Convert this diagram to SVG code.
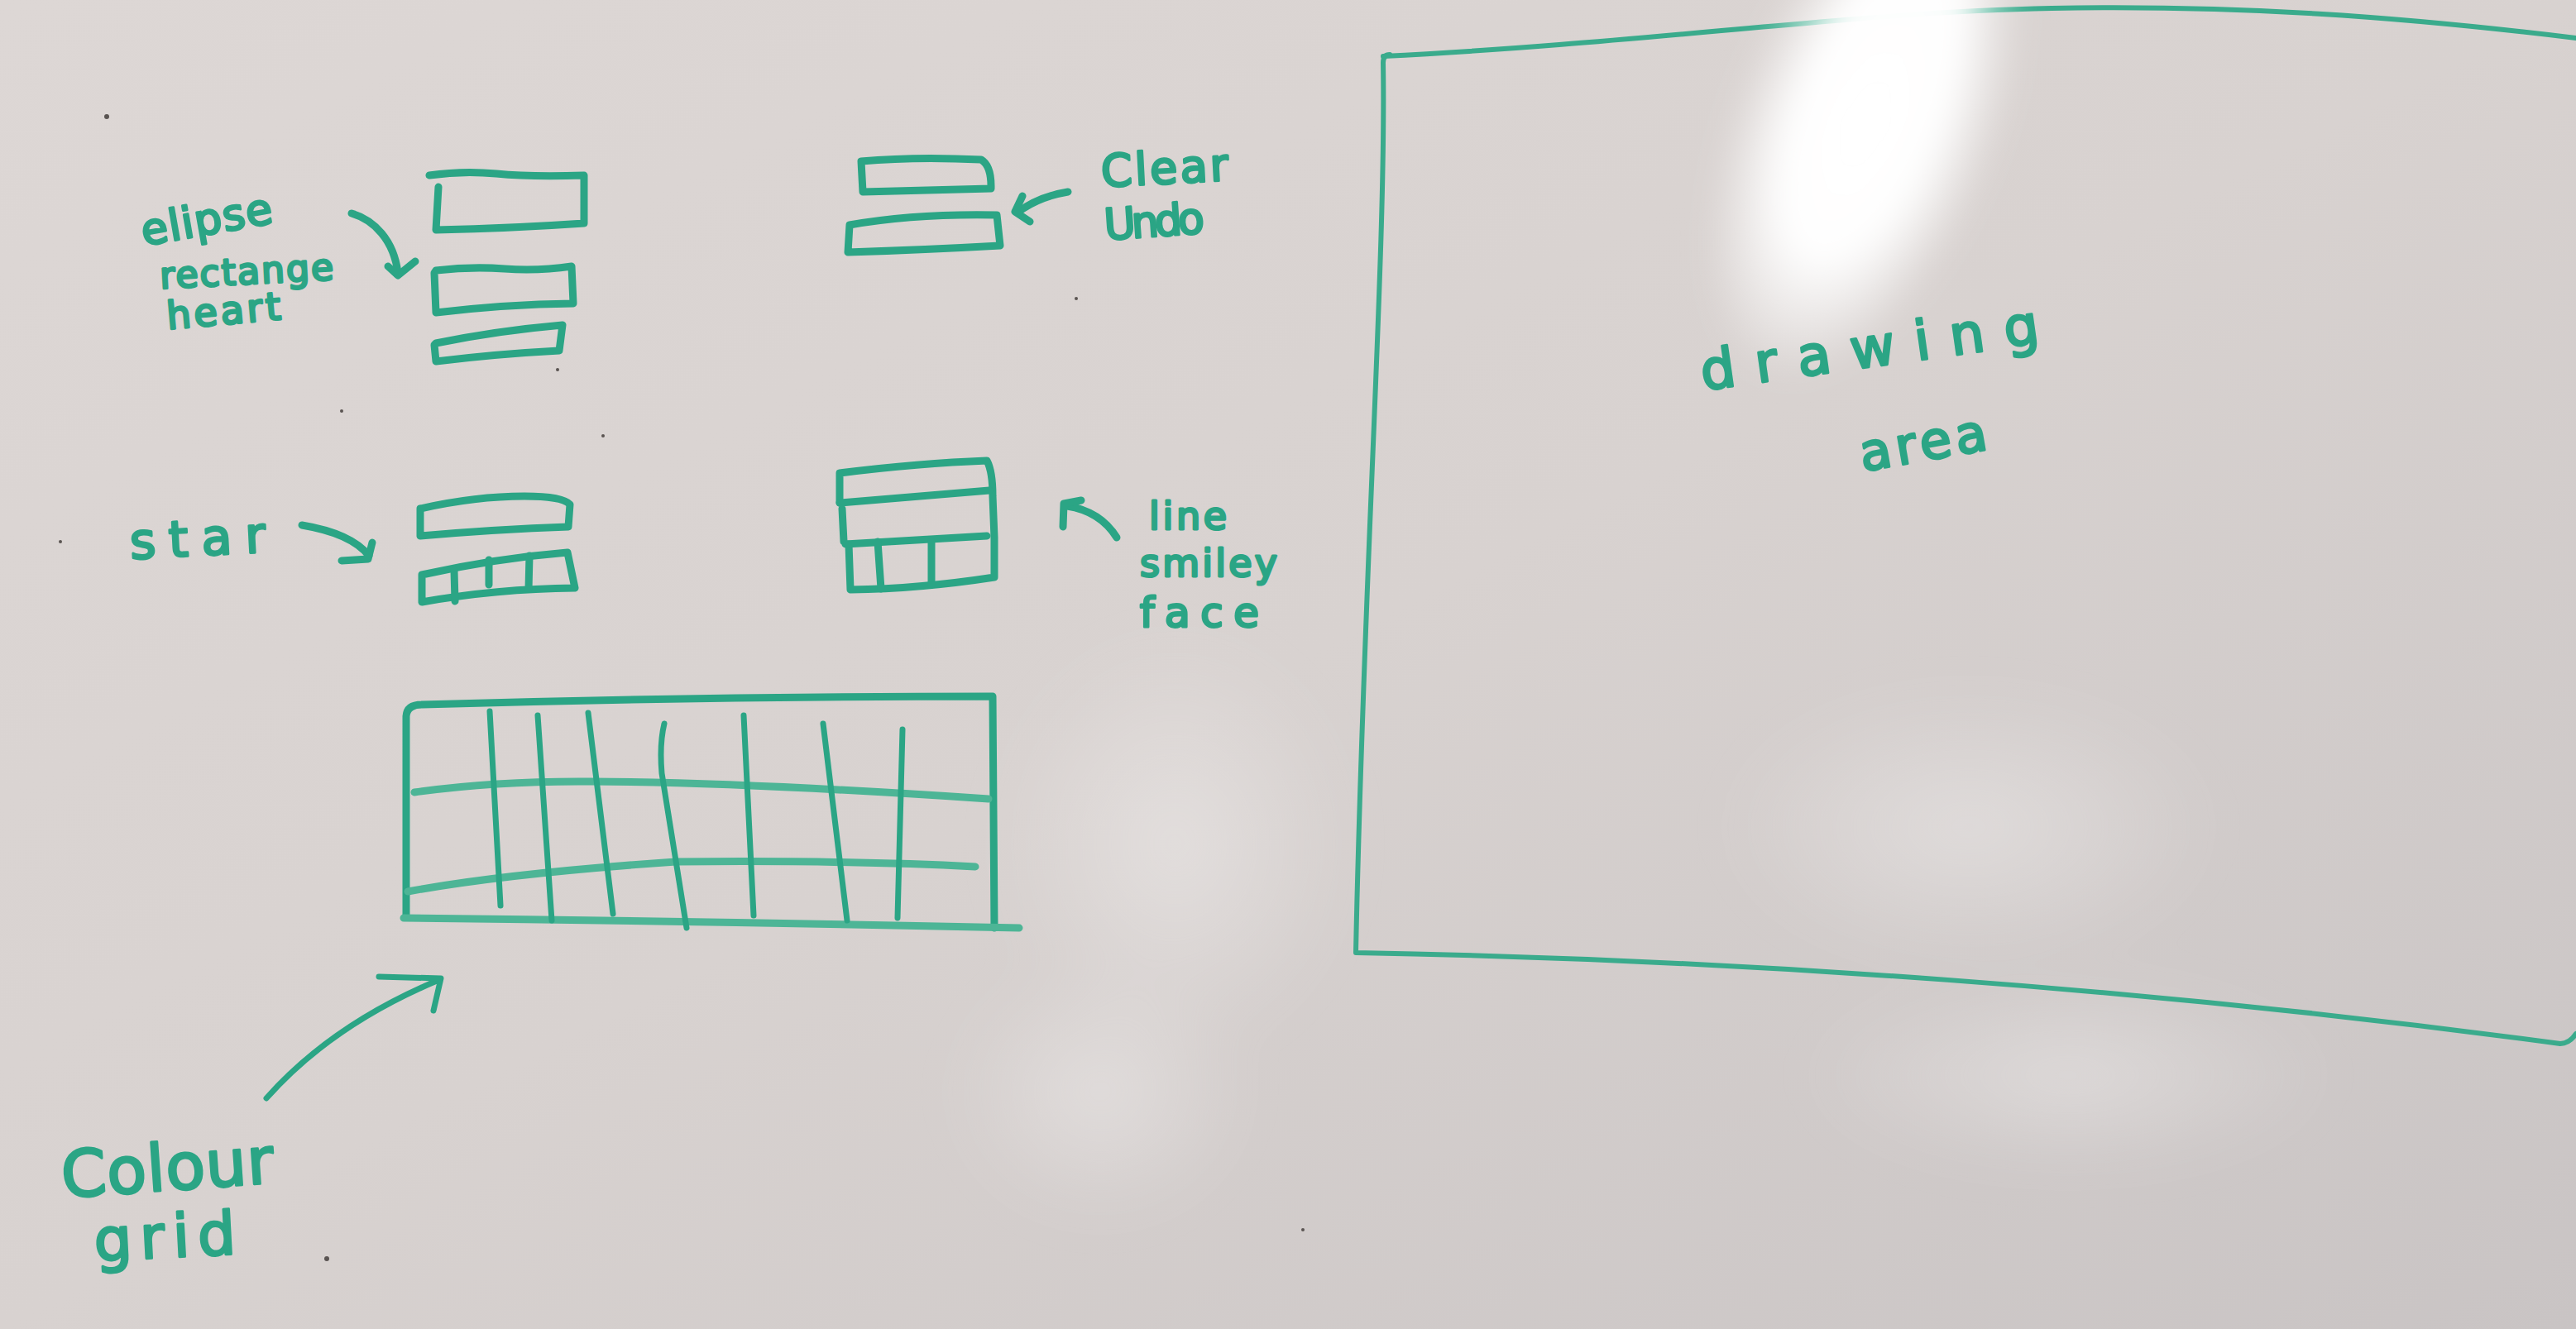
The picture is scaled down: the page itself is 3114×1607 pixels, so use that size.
<svg xmlns="http://www.w3.org/2000/svg" width="3114" height="1607" viewBox="0 0 3114 1607">
  <defs>
    <linearGradient id="board" x1="0" y1="0" x2="1" y2="1">
      <stop offset="0" stop-color="#ddd7d5"/>
      <stop offset="0.5" stop-color="#d8d2d0"/>
      <stop offset="1" stop-color="#c9c4c4"/>
    </linearGradient>
    <radialGradient id="shine">
      <stop offset="0" stop-color="#ffffff" stop-opacity="1"/>
      <stop offset="0.55" stop-color="#ffffff" stop-opacity="0.9"/>
      <stop offset="1" stop-color="#ffffff" stop-opacity="0"/>
    </radialGradient>
    <radialGradient id="haze">
      <stop offset="0" stop-color="#ffffff" stop-opacity="0.3"/>
      <stop offset="1" stop-color="#ffffff" stop-opacity="0"/>
    </radialGradient>
    <filter id="soft" x="-50%" y="-50%" width="200%" height="200%">
      <feGaussianBlur stdDeviation="30"/>
    </filter>
    <filter id="glow" x="-50%" y="-50%" width="200%" height="200%">
      <feGaussianBlur stdDeviation="18"/>
    </filter>
    <style>
      .ink{fill:none;stroke:#2ba585;stroke-width:9;stroke-linecap:round;stroke-linejoin:round}
      .thin{stroke-width:7}
      .light{stroke:#4db596}
      .frame{fill:none;stroke:#3aab8c;stroke-width:6;stroke-linecap:round;stroke-linejoin:round}
      .hand{font-family:"DejaVu Sans","Liberation Sans",sans-serif;fill:#2ba585;stroke:#2ba585;stroke-width:3;stroke-linejoin:round}
      .speck{fill:#5a5452}
    </style>
  </defs>

  <!-- whiteboard surface with soft reflections -->
  <rect x="0" y="0" width="3114" height="1607" fill="url(#board)"/>
  <g filter="url(#soft)">
    <ellipse cx="1420" cy="1020" rx="220" ry="260" fill="url(#haze)"/>
    <ellipse cx="1330" cy="1320" rx="180" ry="160" fill="url(#haze)"/>
    <ellipse cx="2380" cy="1000" rx="300" ry="170" fill="url(#haze)"/>
    <ellipse cx="2500" cy="1300" rx="320" ry="120" fill="url(#haze)"/>
  </g>

  <!-- shape buttons: ellipse / rectangle / heart -->
  <g id="shape-buttons">
    <path class="ink" d="M519,212 Q560,206 600,210 T706,212 L706,270 Q620,276 527,278 L530,226"/>
    <path class="ink" d="M527,327 Q570,322 610,325 T691,322 L693,367 Q610,368 527,378 L525,330 Z"/>
    <path class="ink" d="M527,415 Q600,400 680,393 L676,424 Q600,428 527,437 L525,417 Z"/>
  </g>

  <!-- clear / undo buttons -->
  <g id="edit-buttons">
    <path class="ink" d="M1041,195 Q1107,189 1186,193 Q1198,200 1198,225 L1198,228 Q1120,230 1043,232 Z"/>
    <path class="ink" d="M1027,272 Q1107,258 1205,260 L1209,297 Q1120,302 1025,305 Z"/>
  </g>

  <!-- star buttons -->
  <g id="star-buttons">
    <path class="ink" d="M508,615 Q575,600 634,600 Q680,600 689,610 L687,637 Q600,640 508,648 Z"/>
    <path class="ink" d="M510,695 Q600,675 686,668 L695,711 Q600,712 510,728 Z"/>
    <path class="ink" d="M549,690 L550,727 M591,677 L591,707 M640,672 L639,712"/>
  </g>

  <!-- line / smiley face buttons -->
  <g id="line-buttons">
    <path class="ink" d="M1015,608 L1015,572 Q1111,560 1193,557 Q1200,570 1200,600 L1202,650 L1202,698 Q1111,712 1028,713 L1026,658"/>
    <path class="ink" d="M1015,608 Q1111,600 1196,593"/>
    <path class="ink" d="M1018,615 L1020,655 M1022,658 L1193,648"/>
    <path class="ink" d="M1061,655 L1065,712 M1126,655 L1126,707"/>
  </g>

  <!-- colour grid -->
  <g id="colour-grid">
    <path class="ink" d="M491,1108 L491,866 Q492,852 510,852 Q850,842 1200,842 L1202,1122"/>
    <path class="ink light" d="M488,1110 Q860,1114 1232,1122"/>
    <path class="ink light" d="M501,958 Q600,944 715,945 Q900,946 1195,966"/>
    <path class="ink light" d="M493,1078 Q613,1056 817,1042 Q1021,1040 1179,1048"/>
    <path class="ink thin" d="M592,860 L605,1095 M650,865 L667,1113 M711,862 L741,1105 M803,875 Q797,900 800,935 L830,1122 M899,865 L911,1107 M995,875 L1024,1113 M1091,882 L1085,1110"/>
  </g>

  <!-- drawing area -->
  <g id="drawing-area">
    <path class="frame" d="M1672,68 C1990,52 2250,14 2480,10 S2900,20 3114,46"/>
    <path class="frame" d="M1680,66 Q1672,66 1672,76 C1676,300 1648,700 1639,1152 C2100,1160 2600,1195 3095,1262 Q3106,1262 3114,1250"/>
  </g>

  <!-- window glare washing over the board -->
  <g filter="url(#glow)">
    <ellipse cx="2255" cy="150" rx="160" ry="330" fill="url(#shine)" transform="rotate(22 2255 150)"/>
    <ellipse cx="2270" cy="110" rx="90" ry="220" fill="#ffffff" opacity="0.8" transform="rotate(22 2270 110)"/>
  </g>

  <!-- labels -->
  <g id="labels">
    <text class="hand" x="174" y="297" font-size="52" textLength="160" lengthAdjust="spacing" transform="rotate(-10 174 297)">elipse</text>
    <text class="hand" x="194" y="349" font-size="44" textLength="210" lengthAdjust="spacing" transform="rotate(-3 194 349)">rectange</text>
    <text class="hand" x="203" y="398" font-size="46" textLength="138" lengthAdjust="spacing" transform="rotate(-5 203 398)">heart</text>
    <text class="hand" x="1332" y="226" font-size="54" textLength="154" lengthAdjust="spacing" transform="rotate(-3 1332 226)">Clear</text>
    <text class="hand" x="1336" y="290" font-size="52" textLength="121" lengthAdjust="spacing" transform="rotate(-4 1336 290)">Undo</text>
    <text class="hand" x="158" y="676" font-size="60" textLength="164" lengthAdjust="spacing" transform="rotate(-3 158 676)">star</text>
    <text class="hand" x="1389" y="640" font-size="46" textLength="94" lengthAdjust="spacing">line</text>
    <text class="hand" x="1378" y="697" font-size="46" textLength="166" lengthAdjust="spacing">smiley</text>
    <text class="hand" x="1378" y="758" font-size="50" textLength="144" lengthAdjust="spacing">face</text>
    <text class="hand" x="76" y="1448" font-size="78" textLength="257" lengthAdjust="spacing" transform="rotate(-4 76 1448)">Colour</text>
    <text class="hand" x="115" y="1525" font-size="72" textLength="171" lengthAdjust="spacing" transform="rotate(-3 115 1525)">grid</text>
    <text class="hand" x="2059" y="472" font-size="66" textLength="412" lengthAdjust="spacing" transform="rotate(-8 2059 472)">drawing</text>
    <text class="hand" x="2252" y="570" font-size="62" textLength="155" lengthAdjust="spacing" transform="rotate(-10 2252 570)">area</text>
  </g>

  <!-- pointer arrows -->
  <g id="connectors">
    <path class="ink" d="M425,258 C452,266 476,290 481,330"/>
    <path class="ink" d="M469,322 L481,333 L502,316"/>
    <path class="ink" d="M1291,232 Q1255,238 1230,257"/>
    <path class="ink" d="M1236,237 L1227,256 L1245,268"/>
    <path class="ink" d="M365,635 Q425,645 446,672"/>
    <path class="ink" d="M450,656 L445,676 L413,678"/>
    <path class="ink" d="M1350,650 Q1330,618 1290,612"/>
    <path class="ink" d="M1285,637 L1286,609 L1307,605"/>
    <path class="ink thin" d="M322,1328 Q400,1240 528,1186"/>
    <path class="ink thin" d="M458,1181 L533,1183 L524,1222"/>
  </g>

  <!-- stray marks on the board -->
  <g id="specks">
    <circle class="speck" cx="129" cy="141" r="3"/>
    <circle class="speck" cx="73" cy="655" r="2"/>
    <circle class="speck" cx="413" cy="497" r="2"/>
    <circle class="speck" cx="729" cy="527" r="2"/>
    <circle class="speck" cx="1301" cy="361" r="2"/>
    <circle class="speck" cx="674" cy="447" r="2"/>
    <circle class="speck" cx="395" cy="1522" r="3"/>
    <circle class="speck" cx="1575" cy="1487" r="2"/>
  </g>
</svg>
